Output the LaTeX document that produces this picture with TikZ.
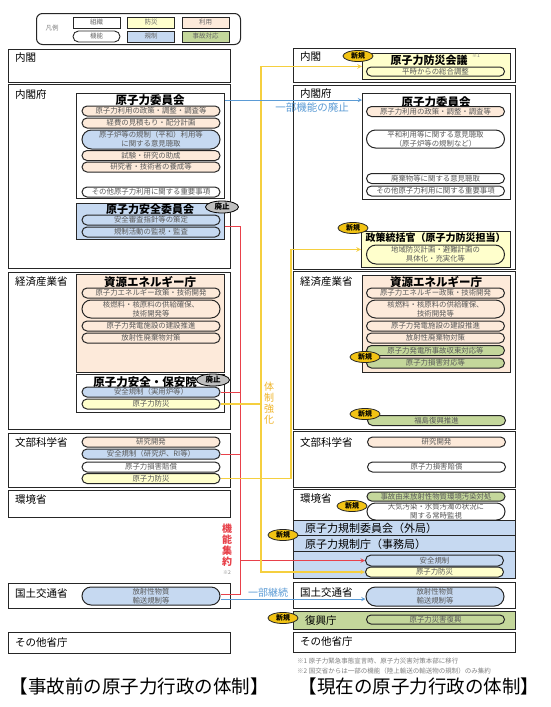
\documentclass[tikz,border=0pt]{standalone}
\usepackage{fontspec}
\setmainfont{Noto Sans CJK JP}
\usepackage{tikz}
\usetikzlibrary{shapes.geometric, shapes.misc, arrows}
\usetikzlibrary{arrows.meta}
\definecolor{bosai}{HTML}{FFFFCC}
\definecolor{kisei}{HTML}{C6D9F1}
\definecolor{riyo}{HTML}{FDEADA}
\definecolor{jiko}{HTML}{C4D79B}
\definecolor{shinki}{HTML}{F2C313}
\definecolor{haishi}{HTML}{BFBFBF}
\definecolor{akasen}{HTML}{E8414A}
\definecolor{kisen}{HTML}{F5CF3F}
\definecolor{kimoji}{HTML}{F0B52A}
\definecolor{aosen}{HTML}{5B9BD5}
\newcommand{\fsz}[2]{\fontsize{#1}{#2}\selectfont}
\tikzstyle{ministry} = [draw=black!85, line width=1pt, fill=white, anchor=north west, inner sep=0pt, minimum width=222pt]
\tikzstyle{mlabel} = [anchor=west, inner sep=0pt, font=\fsz{10.5}{12}]
\tikzstyle{org} = [draw=black!85, line width=0.9pt, fill=white, anchor=north west, inner sep=0pt, minimum width=148pt]
\tikzstyle{otitle} = [inner sep=0pt, font=\fsz{11.5}{13}\bfseries]
\tikzstyle{func} = [rounded rectangle, draw=black!85, line width=1pt, fill=white, minimum width=138pt, minimum height=10pt, inner sep=0pt, text=black!65, font=\fsz{7.4}{9}, align=center]
\tikzstyle{new} = [ellipse, draw=black!85, line width=0.8pt, fill=shinki, minimum width=30pt, minimum height=11pt, inner sep=0pt, font=\fsz{7}{8}\bfseries]
\tikzstyle{abolish} = [ellipse, draw=black, line width=0.8pt, fill=haishi, minimum width=33pt, minimum height=12pt, inner sep=0pt, font=\fsz{7.5}{8}\bfseries]
\tikzstyle{legbox} = [draw=black!85, line width=0.9pt, minimum width=47pt, minimum height=11pt, inner sep=0pt, text=black!60, font=\fsz{6.5}{7}]
\tikzstyle{note} = [inner sep=0pt, text=black!50, font=\fsz{6.5}{7}]
\tikzstyle{redline} = [draw=akasen, line width=1pt]
\tikzstyle{redarrow} = [draw=akasen, line width=1pt, ->, >=stealth]
\tikzstyle{yline} = [draw=kisen, line width=1.1pt]
\tikzstyle{yarrow} = [draw=kisen, line width=1.1pt, ->, >=stealth]
\tikzstyle{barrow} = [draw=aosen, line width=0.9pt, ->, >=stealth]

\begin{document}
\begin{tikzpicture}[x=1pt, y=-1pt]
\fill[white] (0,0) rectangle (550,707);
\useasboundingbox (0,0) rectangle (550,707);

% legend
\node (hanrei) [draw=black!85, line width=1pt, rounded corners=6pt, minimum width=204pt, minimum height=31pt, inner sep=0pt, anchor=north west] at (36,13) {};
\node (hanrei-t) [note] at (52,28) {凡例};
\node (leg-soshiki) [legbox, fill=white] at (96.5,22.5) {組織};
\node (leg-kino) [legbox, rounded rectangle, fill=white] at (96.5,36.5) {機能};
\node (leg-bosai) [legbox, fill=bosai] at (151,22.5) {防災};
\node (leg-kisei) [legbox, fill=kisei] at (151,36.5) {規制};
\node (leg-riyo) [legbox, fill=riyo] at (205.5,22.5) {利用};
\node (leg-jiko) [legbox, fill=jiko] at (205.5,36.5) {事故対応};

% before the accident
\node (naikaku-l) [ministry, minimum height=33pt] at (8,49) {};
\node (naikaku-l-t) [mlabel] at (15,58) {内閣};
\node (cao-l) [ministry, minimum height=184pt] at (8,84) {};
\node (cao-l-t) [mlabel] at (15,95) {内閣府};
\node (aec-l) [org, minimum height=105pt] at (76,93) {};
\node (aec-l-t) [otitle] at (150,100) {原子力委員会};
\node (aec-l-1) [func, fill=riyo] at (151,111) {原子力利用の政策・調整・調査等};
\node (aec-l-2) [func, fill=riyo] at (151,123) {経費の見積もり・配分計画};
\node (aec-l-3) [func, fill=kisei, minimum height=19pt] at (151,139.5) {原子炉等の規制（平和）利用等\\に関する意見聴取};
\node (aec-l-4) [func, fill=riyo] at (151,155.5) {試験・研究の助成};
\node (aec-l-5) [func, fill=riyo] at (151,167) {研究者・技術者の養成等};
\node (aec-l-6) [func] at (151,192) {その他原子力利用に関する重要事項};
\node (nsc) [org, fill=kisei, minimum height=36pt] at (76,203) {};
\node (nsc-t) [otitle, font=\fsz{11}{12}\bfseries] at (150,209.5) {原子力安全委員会};
\node (nsc-1) [func, fill=kisei] at (151,220) {安全審査指針等の策定};
\node (nsc-2) [func, fill=kisei] at (151,232) {規制活動の監視・監査};

\node (meti-l) [ministry, minimum height=157pt] at (8,272) {};
\node (meti-l-t) [mlabel] at (15,282) {経済産業省};
\node (anre-l) [org, fill=riyo, minimum height=98pt] at (76,274) {};
\node (anre-l-t) [otitle] at (150,282) {資源エネルギー庁};
\node (anre-l-1) [func, fill=riyo] at (151,293) {原子力エネルギー政策・技術開発};
\node (anre-l-2) [func, fill=riyo, minimum height=18pt] at (151,309) {核燃料・核原料の供給確保、\\技術開発等};
\node (anre-l-3) [func, fill=riyo] at (151,326) {原子力発電施設の建設推進};
\node (anre-l-4) [func, fill=riyo] at (151,338) {放射性廃棄物対策};
\node (nisa) [org, minimum height=38pt] at (76,374) {};
\node (nisa-t) [otitle] at (145,382) {原子力安全・保安院};
\node (nisa-1) [func, fill=kisei] at (151,392) {安全規制（実用炉等）};
\node (nisa-2) [func, fill=bosai] at (151,404) {原子力防災};

\node (mext-l) [ministry, minimum height=54pt] at (8,433) {};
\node (mext-l-t) [mlabel] at (15,442) {文部科学省};
\node (mext-l-1) [func, fill=riyo] at (151,442) {研究開発};
\node (mext-l-2) [func, fill=kisei] at (151,454) {安全規制（研究炉、RI等）};
\node (mext-l-3) [func] at (151,467) {原子力損害賠償};
\node (mext-l-4) [func, fill=bosai] at (151,478.5) {原子力防災};
\node (moe-l) [ministry, minimum height=27pt] at (8,490) {};
\node (moe-l-t) [mlabel] at (15,500) {環境省};
\node (mlit-l) [ministry, minimum height=25pt] at (8,583) {};
\node (mlit-l-t) [mlabel] at (15,594) {国土交通省};
\node (mlit-l-1) [func, fill=kisei, minimum height=18pt] at (151,596) {放射性物質\\輸送規制等};
\node (other-l) [ministry, minimum height=21pt] at (8,632) {};
\node (other-l-t) [mlabel] at (15,642.5) {その他省庁};

% now
\node (naikaku-r) [ministry, minimum height=34pt] at (293,48) {};
\node (naikaku-r-t) [mlabel] at (300,57) {内閣};
\node (kaigi) [org, fill=bosai, minimum height=26pt] at (362,53) {};
\node (kaigi-t) [otitle, font=\fsz{11}{12}\bfseries] at (429,60) {原子力防災会議};
\node (kaigi-n) [note, font=\fsz{5}{6}] at (476,56) {※1};
\node (kaigi-1) [func, fill=bosai, minimum height=9pt] at (435.5,71.5) {平時からの総合調整};
\node (cao-r) [ministry, minimum height=184pt] at (293,85) {};
\node (cao-r-t) [mlabel] at (300,94) {内閣府};
\node (aec-r) [org, minimum height=106pt] at (362,93) {};
\node (aec-r-t) [otitle] at (436,102) {原子力委員会};
\node (aec-r-1) [func, fill=riyo] at (435.5,111.5) {原子力利用の政策・調整・調査等};
\node (aec-r-2) [func, minimum height=18pt] at (435.5,139) {平和利用等に関する意見聴取\\（原子炉等の規制など）};
\node (aec-r-3) [func] at (435.5,178.5) {廃棄物等に関する意見聴取};
\node (aec-r-4) [func] at (435.5,191) {その他原子力利用に関する重要事項};
\node (tokatsu) [org, fill=bosai, minimum width=149pt, minimum height=36pt] at (361,231) {};
\node (tokatsu-t) [otitle, font=\fsz{10}{11}\bfseries] at (435.5,238) {政策統括官（原子力防災担当）};
\node (tokatsu-1) [func, fill=bosai, minimum height=19pt] at (435.5,254.5) {地域防災計画・避難計画の\\具体化・充実化等};

\node (meti-r) [ministry, minimum height=158pt] at (293,271) {};
\node (meti-r-t) [mlabel] at (300,282) {経済産業省};
\node (anre-r) [org, fill=riyo, minimum height=97pt] at (362,275) {};
\node (anre-r-t) [otitle] at (436,282) {資源エネルギー庁};
\node (anre-r-1) [func, fill=riyo] at (435.5,293) {原子力エネルギー政策・技術開発};
\node (anre-r-2) [func, fill=riyo, minimum height=18pt] at (435.5,309) {核燃料・核原料の供給確保、\\技術開発等};
\node (anre-r-3) [func, fill=riyo] at (435.5,326) {原子力発電施設の建設推進};
\node (anre-r-4) [func, fill=riyo] at (435.5,338) {放射性廃棄物対策};
\node (anre-r-5) [func, fill=jiko] at (435.5,350.5) {原子力発電所事故収束対応等};
\node (anre-r-6) [func, fill=jiko] at (435.5,363) {原子力損害対応等};
\node (meti-r-1) [func, fill=jiko] at (436.5,420.5) {福島復興推進};

\node (mext-r) [ministry, minimum height=56pt] at (293,431) {};
\node (mext-r-t) [mlabel] at (300,442) {文部科学省};
\node (mext-r-1) [func, fill=riyo] at (436.5,442) {研究開発};
\node (mext-r-2) [func] at (436.5,467) {原子力損害賠償};
\node (moe-r) [ministry, minimum height=89pt] at (293,489) {};
\node (moe-r-t) [mlabel] at (300,499) {環境省};
\node (moe-r-1) [func, fill=jiko, minimum height=9pt] at (436,496.5) {事故由来放射性物質環境汚染対処};
\node (moe-r-2) [func, minimum height=17pt] at (436,511.5) {大気汚染・水質汚濁の状況に\\関する常時監視};
\node (nra) [ministry, fill=kisei, minimum height=58pt] at (293,520) {};
\draw [draw=black!85, line width=0.8pt] ([yshift=-15pt]nra.north west) -- ([yshift=-15pt]nra.north east);
\draw [draw=black!85, line width=0.8pt] ([yshift=-31pt]nra.north west) -- ([yshift=-31pt]nra.north east);
\node (nra-t) [mlabel, font=\fsz{11}{12}] at (305,528) {原子力規制委員会（外局）};
\node (nrs-t) [mlabel, font=\fsz{11}{12}] at (305,544) {原子力規制庁（事務局）};
\node (nra-1) [func, fill=kisei, minimum height=11pt] at (434.5,560.5) {安全規制};
\node (nra-2) [func, fill=bosai] at (434.5,572) {原子力防災};

\node (mlit-r) [ministry, minimum height=26pt] at (293,582) {};
\node (mlit-r-t) [mlabel] at (300,593) {国土交通省};
\node (mlit-r-1) [func, fill=kisei, minimum height=19pt] at (435,596.5) {放射性物質\\輸送規制等};
\node (fukko) [ministry, fill=jiko, minimum height=18pt] at (293,611) {};
\node (fukko-t) [mlabel] at (305,621) {復興庁};
\node (fukko-1) [func, fill=jiko, minimum height=9pt] at (435.5,619.5) {原子力災害復興};
\node (other-r) [ministry, minimum height=20pt] at (293,632) {};
\node (other-r-t) [mlabel] at (300,642) {その他省庁};

% connectors
\coordinate (rtrunk) at (240,0);
\coordinate (ytrunk) at (261,0);
\coordinate (yside) at (291,0);
\draw [redarrow] ([yshift=-5pt]nsc.east) -| (rtrunk |- nra-1.west) -- (nra-1.west);
\draw [redline] (nisa-1.east) -- (nisa-1.east -| rtrunk);
\draw [redline] (mext-l-2.east) -- (mext-l-2.east -| rtrunk);
\draw [redline] ([yshift=1.5pt]mlit-l-1.east) -| (rtrunk |- nra-1.west);
\draw [yarrow] (nisa-2.east) -| (ytrunk |- kaigi.west) -- (kaigi.west);
\draw [yarrow] (nisa-2.east -| ytrunk) |- (nra-2.west);
\draw [yarrow] (mext-l-4.east) -| (yside |- tokatsu.west) -- (tokatsu.west);
\draw [barrow] (aec-l.east |- aec-l-t) -- (aec-r.west |- aec-l-t);
\draw [barrow] ([yshift=-3pt]mlit-l-1.east) -- ([yshift=-3pt]mlit-l-1.east -| mlit-r-1.west);

\node (haishi-t) [inner sep=0pt, text=aosen, font=\fsz{10.5}{12}] at (312,108) {一部機能の廃止};
\node (keizoku-t) [inner sep=0pt, text=aosen, font=\fsz{10}{11}] at (268,593) {一部継続};
\node (kyoka-t) [inner sep=0pt, text=kimoji, align=center, font=\fsz{10}{11}] at (269,403.5) {体\\制\\強\\化};
\node (shuyaku-t) [inner sep=0pt, text=akasen, align=center, font=\fsz{10}{11}\bfseries] at (227,545) {機\\能\\集\\約};
\node (shuyaku-n) [note, font=\fsz{5}{6}] at (227,573) {※2};

% badges
\node (nsc-x) [abolish] at (222,207) {廃止};
\node (nisa-x) [abolish] at (213,380) {廃止};
\node (kaigi-new) [new] at (358,56) {新規};
\node (tokatsu-new) [new] at (353,228) {新規};
\node (anre-r-new) [new] at (365,357) {新規};
\node (meti-r-new) [new] at (365,414) {新規};
\node (moe-r-new) [new] at (352,506) {新規};
\node (nra-new) [new] at (283,535) {新規};
\node (fukko-new) [new] at (283,618) {新規};

% notes and titles
\node (note1) [note, anchor=west] at (297,661) {※1\ 原子力緊急事態宣言時、原子力災害対策本部に移行};
\node (note2) [note, anchor=west] at (297,671) {※2\ 国交省からは一部の機能（陸上輸送の輸送物の規制）のみ集約};
\node (mae) [inner sep=0pt, font=\fsz{18.5}{20}] at (139,686) {【事故前の原子力行政の体制】};
\node (ima) [inner sep=0pt, font=\fsz{18.5}{20}] at (419,686) {【現在の原子力行政の体制】};

\end{tikzpicture}
\end{document}
